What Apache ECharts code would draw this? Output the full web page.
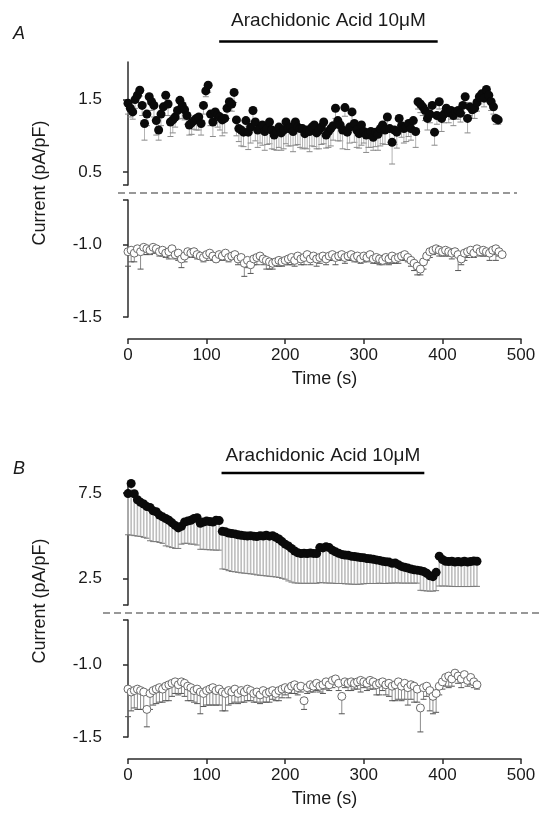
<!DOCTYPE html>
<html>
<head>
<meta charset="utf-8">
<script src="https://cdn.jsdelivr.net/npm/echarts@6/dist/echarts.min.js"></script>
<style>
html, body { margin: 0; background: #fff; }
#chart { width: 540px; height: 816px; }
</style>
</head>
<body>
<div id="chart"></div>
<script>
// sampling interval (s) of each trace
const stepAUp = 3
const stepADown = 4
const stepB = 4

// panel A, outward current (filled circles) and its SEM
const aUp = [
    1.45,1.38,1.33,1.50,1.56,1.63,1.42,1.17,1.30,1.54,
    1.47,1.42,1.21,1.08,1.30,1.40,1.56,1.44,1.19,1.22,
    1.26,1.35,1.49,1.42,1.36,1.28,1.15,1.18,1.21,1.24,
    1.26,1.17,1.42,1.62,1.70,1.30,1.19,1.33,1.28,1.26,
    1.22,1.24,1.38,1.47,1.44,1.60,1.22,1.10,1.08,1.05,
    1.21,1.05,1.12,1.35,1.19,1.08,1.10,1.15,1.06,1.10,
    1.19,1.08,1.01,1.06,1.12,1.04,1.08,1.19,1.10,1.12,
    1.06,1.19,1.12,1.10,1.10,1.03,1.08,1.06,1.12,1.15,
    1.04,1.08,1.12,1.19,1.01,1.06,1.10,1.14,1.38,1.21,
    1.15,1.08,1.39,1.05,1.12,1.33,1.17,1.08,1.03,1.15,
    1.06,1.01,1.04,1.06,0.98,1.05,1.02,1.10,1.15,1.08,
    1.26,1.10,0.91,1.08,1.05,1.24,1.14,1.10,1.12,1.17,
    1.10,1.21,1.06,1.47,1.44,1.40,1.35,1.24,1.30,1.42,
    1.05,1.28,1.47,1.24,1.30,1.38,1.32,1.35,1.28,1.33,
    1.35,1.31,1.42,1.54,1.24,1.40,1.36,1.38,1.46,1.54,
    1.58,1.52,1.64,1.56,1.47,1.40,1.24,1.22
]
const aUpErr = [
    0.15,0.12,0.10,0.12,0.10,0.08,0.14,0.23,0.16,0.10,
    0.12,0.16,0.20,0.14,0.16,0.12,0.10,0.16,0.20,0.18,
    0.14,0.12,0.10,0.18,0.14,0.12,0.14,0.16,0.12,0.16,
    0.18,0.16,0.12,0.08,0.10,0.16,0.20,0.14,0.16,0.18,
    0.22,0.20,0.14,0.12,0.10,0.14,0.22,0.18,0.22,0.20,
    0.16,0.24,0.22,0.15,0.26,0.24,0.20,0.28,0.26,0.22,
    0.30,0.26,0.20,0.26,0.28,0.24,0.26,0.30,0.24,0.26,
    0.28,0.32,0.24,0.26,0.28,0.20,0.26,0.28,0.26,0.30,
    0.22,0.26,0.24,0.30,0.18,0.22,0.24,0.20,0.14,0.28,
    0.22,0.26,0.12,0.24,0.22,0.18,0.26,0.24,0.20,0.28,
    0.16,0.24,0.20,0.22,0.18,0.20,0.22,0.24,0.26,0.20,
    0.12,0.22,0.30,0.20,0.22,0.18,0.16,0.20,0.20,0.18,
    0.16,0.14,0.22,0.10,0.12,0.12,0.14,0.16,0.12,0.14,
    0.18,0.12,0.10,0.18,0.12,0.10,0.14,0.12,0.14,0.10,
    0.12,0.12,0.10,0.08,0.20,0.12,0.12,0.14,0.12,0.10,
    0.10,0.12,0.12,0.10,0.12,0.10,0.08,0.06
]

// panel A, inward current (open circles)
const aDown = [
    -1.05,-1.04,-1.06,-1.03,-1.05,-1.02,-1.03,-1.04,-1.02,-1.03,
    -1.05,-1.04,-1.06,-1.05,-1.03,-1.07,-1.06,-1.10,-1.08,-1.05,
    -1.06,-1.05,-1.07,-1.08,-1.09,-1.07,-1.06,-1.08,-1.10,-1.07,
    -1.08,-1.06,-1.09,-1.08,-1.07,-1.10,-1.09,-1.13,-1.11,-1.14,
    -1.10,-1.09,-1.08,-1.10,-1.11,-1.12,-1.13,-1.12,-1.11,-1.12,
    -1.11,-1.10,-1.09,-1.11,-1.08,-1.10,-1.09,-1.07,-1.10,-1.08,
    -1.10,-1.09,-1.08,-1.10,-1.08,-1.07,-1.09,-1.08,-1.07,-1.09,
    -1.08,-1.07,-1.09,-1.08,-1.10,-1.08,-1.09,-1.07,-1.10,-1.09,
    -1.10,-1.11,-1.09,-1.10,-1.08,-1.10,-1.09,-1.08,-1.07,-1.09,
    -1.11,-1.13,-1.15,-1.17,-1.12,-1.08,-1.05,-1.04,-1.03,-1.04,
    -1.05,-1.04,-1.05,-1.06,-1.05,-1.07,-1.10,-1.06,-1.05,-1.04,
    -1.06,-1.03,-1.05,-1.04,-1.05,-1.06,-1.04,-1.03,-1.05,-1.07
]
const aDownErr = [
    0.10,0.08,0.06,0.04,0.12,0.05,0.04,0.03,0.04,0.03,
    0.03,0.04,0.03,0.05,0.04,0.03,0.05,0.06,0.04,0.03,
    0.03,0.04,0.03,0.02,0.03,0.04,0.03,0.03,0.02,0.03,
    0.03,0.04,0.03,0.02,0.03,0.04,0.03,0.09,0.05,0.06,
    0.04,0.05,0.03,0.04,0.06,0.05,0.04,0.03,0.04,0.03,
    0.03,0.04,0.05,0.04,0.03,0.04,0.05,0.03,0.04,0.03,
    0.05,0.04,0.03,0.04,0.03,0.04,0.05,0.03,0.03,0.04,
    0.03,0.04,0.03,0.04,0.03,0.04,0.03,0.04,0.03,0.04,
    0.04,0.03,0.04,0.04,0.05,0.03,0.04,0.03,0.04,0.03,
    0.04,0.05,0.06,0.04,0.05,0.03,0.04,0.03,0.03,0.04,
    0.03,0.04,0.03,0.04,0.03,0.11,0.04,0.05,0.04,0.03,
    0.03,0.04,0.03,0.04,0.03,0.05,0.03,0.08,0.03,0.02
]

// panel B, outward current
const bUp = [
    7.46,8.05,7.45,7.10,6.95,6.85,6.70,6.65,6.45,6.40,
    6.20,6.10,6.00,5.90,5.75,5.60,5.45,5.55,5.80,5.85,
    5.90,6.00,6.05,5.72,5.80,5.85,5.82,5.80,5.90,5.88,
    5.25,5.22,5.15,5.12,5.10,5.05,5.02,5.00,4.98,5.00,
    4.97,4.95,5.00,4.98,5.02,4.97,5.00,4.90,4.80,4.65,
    4.50,4.40,4.25,4.10,4.00,3.95,3.97,3.95,3.98,3.96,
    3.95,4.30,4.28,4.35,4.30,4.15,4.05,3.97,3.90,3.86,
    3.85,3.80,3.78,3.75,3.72,3.70,3.66,3.65,3.62,3.58,
    3.55,3.50,3.47,3.45,3.38,3.40,3.30,3.20,3.15,3.10,
    3.05,3.00,2.98,2.95,2.90,2.80,2.65,2.60,2.85,3.80,
    3.60,3.50,3.48,3.50,3.45,3.48,3.45,3.50,3.45,3.48,
    3.52,3.50
]
const bUpErr = [
    2.41,3.02,2.45,2.13,2.00,1.95,1.85,1.95,1.80,1.75,
    1.60,1.55,1.60,1.55,1.45,1.35,1.20,1.05,1.25,1.30,
    1.40,1.50,1.60,1.52,1.60,1.67,1.65,1.64,1.75,1.73,
    2.20,2.20,2.20,2.22,2.22,2.20,2.20,2.20,2.20,2.24,
    2.23,2.25,2.32,2.32,2.38,2.35,2.40,2.32,2.25,2.15,
    2.05,2.05,1.97,1.87,1.78,1.74,1.76,1.74,1.77,1.75,
    1.74,2.05,2.04,2.12,2.08,1.93,1.85,1.77,1.70,1.68,
    1.68,1.64,1.63,1.60,1.56,1.52,1.46,1.45,1.42,1.38,
    1.33,1.30,1.27,1.23,1.16,1.17,1.07,0.98,0.93,0.88,
    0.83,0.78,0.76,1.15,1.12,1.04,0.90,0.85,1.07,1.75,
    1.55,1.45,1.44,1.47,1.43,1.46,1.43,1.48,1.43,1.46,
    1.49,1.47
]

// panel B, inward current
const bDown = [
    -1.17,-1.19,-1.18,-1.17,-1.18,-1.19,-1.31,-1.20,-1.18,-1.17,
    -1.16,-1.17,-1.15,-1.14,-1.13,-1.12,-1.14,-1.12,-1.13,-1.15,
    -1.16,-1.18,-1.17,-1.19,-1.20,-1.18,-1.17,-1.16,-1.18,-1.17,
    -1.19,-1.20,-1.18,-1.19,-1.17,-1.20,-1.18,-1.19,-1.17,-1.18,
    -1.20,-1.19,-1.21,-1.18,-1.20,-1.19,-1.18,-1.20,-1.18,-1.17,
    -1.16,-1.17,-1.15,-1.14,-1.16,-1.15,-1.25,-1.16,-1.14,-1.15,
    -1.13,-1.15,-1.14,-1.12,-1.14,-1.11,-1.10,-1.13,-1.22,-1.12,
    -1.13,-1.12,-1.13,-1.12,-1.11,-1.12,-1.13,-1.11,-1.12,-1.14,
    -1.13,-1.12,-1.14,-1.13,-1.15,-1.14,-1.12,-1.15,-1.13,-1.16,
    -1.14,-1.15,-1.17,-1.30,-1.16,-1.15,-1.18,-1.22,-1.20,-1.15,
    -1.12,-1.09,-1.08,-1.10,-1.06,-1.08,-1.10,-1.07,-1.11,-1.09,
    -1.12,-1.14
]
const bDownErr = [
    0.19,0.13,0.12,0.14,0.13,0.12,0.12,0.11,0.10,0.10,
    0.10,0.09,0.10,0.11,0.09,0.08,0.07,0.08,0.09,0.10,
    0.09,0.08,0.10,0.15,0.09,0.10,0.11,0.12,0.10,0.11,
    0.13,0.12,0.10,0.08,0.09,0.07,0.08,0.07,0.08,0.07,
    0.06,0.07,0.06,0.08,0.06,0.07,0.06,0.05,0.07,0.06,
    0.05,0.06,0.05,0.06,0.05,0.04,0.06,0.04,0.05,0.04,
    0.05,0.04,0.06,0.05,0.04,0.05,0.04,0.05,0.12,0.04,
    0.05,0.06,0.04,0.05,0.08,0.04,0.05,0.06,0.05,0.07,
    0.08,0.06,0.07,0.09,0.10,0.11,0.12,0.10,0.11,0.12,
    0.10,0.11,0.09,0.165,0.08,0.07,0.14,0.12,0.13,0.06,
    0.05,0.06,0.08,0.05,0.04,0.05,0.06,0.05,0.04,0.05,
    0.04,0.03
]

// axis ticks
const xTicks = [0, 100, 200, 300, 400, 500]
const yTicksAUp = [0.5, 1.5]
const yTicksBUp = [2.5, 7.5]
const yTicksDown = [-1.5, -1.0]

// drug application (s)
const aaA = [116, 394]
const aaB = [119, 377]
const drugLabel = 'Arachidonic Acid 10\u03bcM'

const font = 'Liberation Sans, Arial, sans-serif'
const axisColor = '#2b2b2b'
const textColor = '#1a1a1a'

function points(vals, errs, step) {
    return vals.map((v, i) => [i * step, v, v - errs[i]])
}

function errBar(lineColor, capColor, width) {
    return function(params, api) {
        const top = api.coord([api.value(0), api.value(1)])
        const bot = api.coord([api.value(0), api.value(2)])
        return {
            type: 'group',
            children: [
                {type: 'line', shape: {x1: top[0], y1: top[1], x2: bot[0], y2: bot[1]},
                    style: {stroke: lineColor, lineWidth: width}},
                {type: 'line', shape: {x1: bot[0] - 3, y1: bot[1], x2: bot[0] + 3, y2: bot[1]},
                    style: {stroke: capColor, lineWidth: 1}}
            ]
        }
    }
}

const grid = [
    {left: 128, right: 19, top: 62, height: 123},
    {left: 128, right: 19, top: 200, height: 117},
    {left: 128, right: 19, top: 483, height: 122},
    {left: 128, right: 19, top: 620, height: 117}
]

function xAxis(idx, visible) {
    return {
        type: 'value', gridIndex: idx, min: 0, max: 500, interval: 100,
        show: visible, offset: 22,
        axisLine: {lineStyle: {color: axisColor, width: 1.5}},
        axisTick: {length: 5, lineStyle: {color: axisColor, width: 1.5}, customValues: xTicks},
        axisLabel: {color: textColor, fontFamily: font, fontSize: 17, margin: 8, customValues: xTicks},
        splitLine: {show: false},
        name: 'Time (s)', nameLocation: 'middle', nameGap: 31,
        nameTextStyle: {color: textColor, fontFamily: font, fontSize: 18}
    }
}

function yAxis(idx, min, max, labels) {
    return {
        type: 'value', gridIndex: idx, min, max, offset: 19,
        axisLine: {show: true, lineStyle: {color: axisColor, width: 1.5}},
        axisTick: {show: true, length: 5, lineStyle: {color: axisColor, width: 1.5},
            customValues: [min, ...labels, max].filter(v => v !== max || idx % 2 === 1)},
        axisLabel: {color: textColor, fontFamily: font, fontSize: 17, margin: 7,
            customValues: labels, formatter: v => v.toFixed(1)},
        splitLine: {show: false}
    }
}

function upperSeries(idx, vals, errs, step, barColor, capColor, width) {
    const data = points(vals, errs, step)
    return [
        {type: 'custom', xAxisIndex: idx, yAxisIndex: idx, data, z: 2,
            encode: {x: 0, y: [1, 2]}, renderItem: errBar(barColor, capColor, width)},
        {type: 'scatter', xAxisIndex: idx, yAxisIndex: idx, data, z: 3,
            symbolSize: 9, itemStyle: {color: '#0a0a0a', opacity: 1}}
    ]
}

function lowerSeries(idx, vals, errs, step) {
    const data = points(vals, errs, step)
    return [
        {type: 'custom', xAxisIndex: idx, yAxisIndex: idx, data, z: 2,
            encode: {x: 0, y: [1, 2]}, renderItem: errBar('#8c8c8c', '#555', 1)},
        {type: 'scatter', xAxisIndex: idx, yAxisIndex: idx, data, z: 3,
            symbolSize: 8, itemStyle: {color: '#fff', borderColor: '#6a6a6a', borderWidth: 1, opacity: 1}}
    ]
}

const chart = echarts.init(document.getElementById('chart'))

chart.setOption({
    animation: false,
    backgroundColor: '#fff',
    grid,
    xAxis: [xAxis(0, false), xAxis(1, true), xAxis(2, false), xAxis(3, true)],
    yAxis: [
        yAxis(0, 0.32, 2.02, yTicksAUp),
        yAxis(1, -1.5, -0.694, yTicksDown),
        yAxis(2, 0.94, 8.08, yTicksBUp),
        yAxis(3, -1.5, -0.694, yTicksDown)
    ],
    series: [
        ...upperSeries(0, aUp, aUpErr, stepAUp, '#b3b3b3', '#8a8a8a', 1),
        ...lowerSeries(1, aDown, aDownErr, stepADown),
        ...upperSeries(2, bUp, bUpErr, stepB, '#bdbdbd', '#7a7a7a', 1.6),
        ...lowerSeries(3, bDown, bDownErr, stepB)
    ]
})

// drug bars, panel letters, axis breaks and y titles
function drugMark(xIdx, range, barY, textY) {
    const x0 = chart.convertToPixel({xAxisIndex: xIdx}, range[0])
    const x1 = chart.convertToPixel({xAxisIndex: xIdx}, range[1])
    return [
        {type: 'line', shape: {x1: x0, y1: barY, x2: x1, y2: barY},
            style: {stroke: '#000', lineWidth: 2.5}},
        {type: 'text', x: (x0 + x1) / 2, y: textY,
            style: {text: drugLabel, fill: textColor, font: '19px ' + font,
                align: 'center', verticalAlign: 'middle'}}
    ]
}

function yTitle(cy) {
    return {type: 'text', x: 40, y: cy, rotation: Math.PI / 2,
        style: {text: 'Current (pA/pF)', fill: textColor, font: '18px ' + font,
            align: 'center', verticalAlign: 'middle'}}
}

function letter(txt, cy) {
    return {type: 'text', x: 19, y: cy,
        style: {text: txt, fill: textColor, font: 'italic 18px ' + font,
            align: 'center', verticalAlign: 'middle'}}
}

function breakLine(x0, x1, y) {
    return {type: 'line', shape: {x1: x0, y1: y, x2: x1, y2: y},
        style: {stroke: '#777', lineWidth: 1.5, lineDash: [7, 4]}}
}

chart.setOption({
    graphic: [
        ...drugMark(0, aaA, 41.5, 21),
        ...drugMark(2, aaB, 473, 456),
        letter('A', 34),
        letter('B', 469),
        breakLine(118, 517, 193),
        breakLine(103, 540, 613),
        yTitle(183),
        yTitle(601)
    ]
})
</script>
</body>
</html>
